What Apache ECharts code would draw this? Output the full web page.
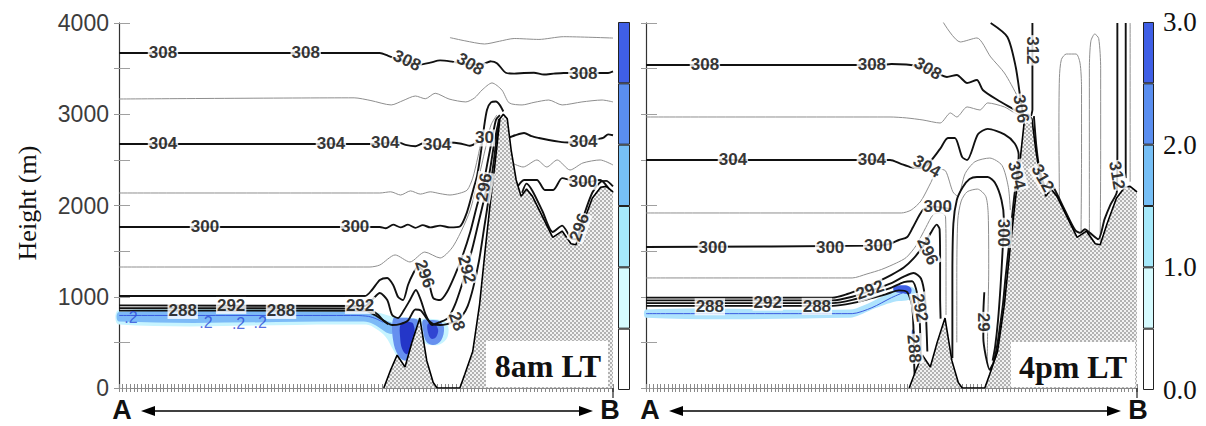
<!DOCTYPE html>
<html>
<head>
<meta charset="utf-8">
<script src="https://cdn.jsdelivr.net/npm/echarts@6/dist/echarts.min.js"></script>
<style>
html,body{margin:0;padding:0;background:#fff;}
#chart{width:1206px;height:426px;}
</style>
</head>
<body>
<div id="chart"></div>
<script>
// Cross-section A–B: x = distance along the section (% of its length), y = height (m)

// terrain profile (shared by both times)
const terrain = [[53.6,0],[55,200],[56.3,360],[57.9,230],[59.3,500],[60.9,767],[62.3,300],[63.6,60],[64.4,0],[69,0],[70,150],[71.6,400],[73,920],[74.1,1500],[75.1,2000],[76.1,2450],[77.1,2950],[77.8,3000],[78.6,2950],[79.4,2600],[80.4,2280],[81.4,2100],[82.5,2180],[83.7,2100],[85.7,1880],[87.8,1650],[89.7,1720],[91.5,1580],[92.5,1570],[93.9,1800],[95.8,2080],[97.5,2200],[98.6,2210],[100,2150]];

const heightTicks = [0, 1000, 2000, 3000, 4000];

// ---------- 8am LT potential temperature (K) isolines ----------
const am310 = [[67,3840],[70,3805],[74,3770],[77,3800],[80,3830],[85,3820],[90,3850],[100,3835]];
const am308 = [[0,3672],[52.8,3672],[54.5,3640],[56.5,3600],[59,3565],[61,3545],[63,3565],[65,3590],[67,3580],[69,3560],[71,3545],[73.3,3545],[75.3,3580],[76.5,3560],[78.3,3455],[80,3445],[82,3452],[84,3455],[86,3435],[88,3445],[90,3452],[99,3452],[100,3470]];
const am306 = [[0,3167],[47.6,3180],[51,3150],[55.1,3102],[57.5,3150],[60,3200],[62,3170],[64,3230],[66.8,3167],[70.2,3135],[72,3180],[73.5,3266],[75.5,3343],[77.5,3266],[79,3124],[81.6,3102],[84,3130],[87,3156],[89.7,3102],[93.7,3135],[97.8,3156],[100,3135]];
const am304 = [[0,2674],[52.8,2674],[54,2685],[56,2700],[58,2665],[60,2650],[61.5,2680],[63,2660],[65,2650],[67,2690],[69,2680],[71,2655],[72.8,2700]];
const am304r = [[78.7,2740],[80.2,2770],[82,2795],[83.5,2760],[85,2740],[87,2718],[89,2700],[91,2690],[93,2700],[96,2720],[98,2740],[99,2780],[100,2770]];
const am302 = [[0,2137],[52.8,2137],[55,2150],[57,2115],[59,2160],[61,2125],[63,2150],[65,2130],[67,2115],[69,2135],[70.5,2170],[71.6,2300],[72.6,2520],[73.3,2700]];
const am302r = [[79.1,2477],[81.8,2422],[84.6,2499],[86.6,2422],[88.7,2499],[91.3,2389],[93.9,2466],[97.4,2499],[100,2444]];
const am300 = [[0,1765],[52.8,1765],[54,1750],[55.5,1790],[57,1760],[58.5,1790],[60,1755],[61.5,1785],[63,1760],[65,1780],[67,1760],[69,1770],[70.4,1920],[71.7,2170],[72.5,2330],[73.3,2600],[73.9,2860],[74.5,3050],[75.3,3130],[76.3,3140],[77.1,3100],[77.8,3030]];
const am300r = [[80.6,2200],[82,2280],[84.6,2280],[86.2,2170],[87.9,2170],[89.7,2300],[91.3,2280],[93.9,2247],[97.4,2280],[99.4,2170],[100,2140]];
const am298 = [[0,1326],[50.8,1326],[52.8,1348],[55.9,1458],[58.9,1381],[61.9,1490],[65,1425],[67.4,1535],[69.4,1732],[71.1,1951],[72.7,2280],[74.1,2608],[75.3,2882],[76.5,2992]];
const am296 = [[0,1008],[49.8,1008],[51.2,1074],[52.8,1184],[54.3,1206],[55.5,1129],[56.5,997],[57.5,964],[58.5,1129],[59.5,1250],[60.5,1330],[61.5,1290],[62.6,1184],[63.6,986],[65,964],[66.4,1052],[68,1238],[69.6,1458],[71.1,1710],[72.5,2006],[73.7,2225],[74.7,2499],[75.5,2718],[76.3,2937],[77.1,2990]];
const am296r = [[81.6,2140],[82.5,2240],[83.7,2160],[85.7,1940],[87.8,1710],[89.7,1780],[91.5,1640],[92.5,1630],[93.9,1860],[95.8,2140],[97.5,2260],[98.6,2270],[100,2210]];
const am292 = [[0,905],[49.8,899],[51.2,964],[52.8,1041],[54.3,964],[55.3,800],[56.5,767],[57.7,855],[58.9,964],[60.1,1074],[61.1,964],[62.1,800],[63.4,690],[65,723],[66.6,767],[68,910],[69.4,1129],[70.6,1348],[71.7,1567],[72.9,1841],[74.1,2115],[75.1,2389],[75.9,2663],[76.7,2882],[77.3,2960]];
const am290 = [[0,875],[49,872],[51,850],[52.5,800],[53.5,740],[54.5,700]];
const am288 = [[0,848],[49.8,846],[51.8,800],[53.8,730],[55.3,690],[56.9,700],[58.5,740],[60,860],[61.1,850],[62.3,760],[63.6,700],[65,690],[66.4,700],[67.6,720],[68.6,740],[69.6,800],[70.6,900],[71.7,1100],[72.9,1400],[73.9,1750],[74.9,2100],[75.9,2500],[76.9,2950]];
const amBlueLine = [[0,795],[48,795],[50.5,785],[52,760],[53.5,720]];

// shaded field (0–3 scale) near the inversion
const amBandLight = [[0,855],[49,855],[51,845],[53,820],[55,790],[57,775],[59,770],[61,760],[63,760],[65,745],[66.5,700],[66.5,560],[65,480],[63,470],[61,500],[59,380],[57,300],[55.5,420],[54,560],[52,650],[50,695],[0,695]];
const amBandMid = [[0,832],[49,832],[51,815],[52.5,780],[54,740],[55.5,700],[55.5,600],[54.5,600],[53,650],[51,712],[49,728],[0,728]];
const amBlob1Mid = [[55.5,760],[57,770],[59,765],[60.5,740],[60.5,460],[59.5,360],[58,300],[56.5,360],[55.5,520]];
const amBlob1Dark = [[57,700],[58.3,725],[59.6,700],[59.8,520],[59,420],[58.2,370],[57.3,430],[56.9,560]];
const amBlob2Mid = [[61.5,740],[63,745],[65,730],[65.8,660],[65.2,520],[63.6,470],[62.2,510],[61.6,620]];
const amBlob2Dark = [[62.5,700],[63.8,705],[64.6,640],[64.2,560],[63.2,540],[62.6,600]];

// isoline labels: [x, height, text, rotation]
const amLabels = [
  [8.9,3672,'308',0],[37.8,3672,'308',0],[58.3,3590,'308',-25],[71.1,3550,'308',-30],[94,3452,'308',0],
  [8.9,2674,'304',0],[42.9,2674,'304',0],[53.9,2685,'304',0],[64.4,2665,'304',0],[94,2700,'304',0],
  [74.0,2740,'30',0],
  [17.4,1765,'300',0],[47.8,1765,'300',0],[93.9,2265,'300',0],
  [12.9,850,'288',0],[22.7,905,'292',0],[32.8,850,'288',0],[48.8,905,'292',0],
  [61.9,1250,'296',-70],[73.9,2200,'296',80],[70.4,1300,'292',-75],[68.4,730,'28',-70],[93.2,1760,'296',70]
];
const amBlueLabels = [[2.4,770,'.2',0],[17.6,715,'.2',0],[24.2,712,'.2',0],[28.6,722,'.2',0]];

// ---------- 4pm LT potential temperature (K) isolines ----------
const pm308 = [[0,3540],[48,3540],[50,3550],[53,3545],[55,3530],[57.4,3500],[59.3,3450],[61.3,3409],[63.3,3430],[65.4,3343],[67.4,3376],[68.6,3266],[71.6,3156],[75.1,3047],[76.8,2990]];
const pm306 = [[0,2970],[49.7,2970],[53,2960],[56.4,2937],[59.9,2904],[62,3014],[63.3,2970],[65.4,3080],[68,3047],[69.6,3124],[73,3080],[75.1,3014],[76.3,2990],[77.2,2990]];
const pm304 = [[0,2499],[49.7,2499],[51.8,2460],[53.8,2422],[55.5,2410],[57.2,2440],[59.9,2620],[61.5,2740],[62.9,2740],[64.4,2530],[65.4,2499],[67.6,2780],[69.6,2840],[73,2780],[75.1,2680],[75.9,2560],[75.6,2350],[75.0,2100],[74.6,1900],[74.1,1650],[73.7,1450],[73.2,1200],[72.7,920],[71.9,600],[71.3,400],[70.3,180]];
const pm302 = [[0,1918],[52,1918],[54,1950],[56,2050],[58,2250],[59.5,2400],[61,2380],[62.5,2150],[63.5,2100],[65,2350],[67,2480],[70,2520],[72.5,2440],[73.8,2200],[74.2,1950]];
const pm300a = [[0,1545],[47.3,1560],[49.7,1580],[51.5,1622],[53.2,1655],[54.4,1765],[56.4,1951],[58.2,1990],[60.5,1975],[62.3,1960]];
const pm300b = [[62.4,330],[62.4,1200],[62.6,1800],[63.3,2060],[64.5,2200],[65.9,2290],[67.4,2313],[69.6,2313],[71.1,2247],[72.4,2060],[72.9,1841],[72.6,1480],[72.2,1107],[71.7,745],[71.1,450],[70.6,300]];
const pmInner = [[63.3,500],[63.3,1200],[63.5,1841],[64.2,2050],[65.4,2150],[67.5,2180],[69.2,2100],[69.7,1900],[69.8,1300],[69.6,700],[69.5,300]];
const pm292v = [[68.9,1050],[68.7,800],[68.7,550],[69.2,350],[70.0,200],[70.6,260]];
const pm298 = [[0,1206],[42,1206],[45,1250],[48,1300],[51,1370],[53,1430],[55,1560],[57,1760],[58.5,1900],[60,1920],[61,1880],[61.1,1500],[61.1,1000],[61.1,800]];
const pm296 = [[0,990],[38,990],[41,1030],[44,1090],[47,1160],[50,1240],[52.5,1320],[54.5,1420],[56.5,1560],[58,1700],[59.2,1790],[59.8,1740],[59.9,1400],[59.9,1000],[60.0,760]];
const pm292 = [[0,960],[38,960],[42,1000],[46,1070],[50,1150],[52.5,1220],[54.5,1260],[56,1200],[56.8,1000],[57.1,700],[57.3,400]];
const pm290 = [[0,930],[38,930],[42,965],[46,1030],[50,1100],[52.5,1160],[54.2,1170],[55.3,1020],[55.7,800],[55.9,500],[56.0,300]];
const pm288 = [[0,900],[38,900],[42,930],[46,985],[49,1030],[51.5,1070],[53.2,1050],[54.2,900],[54.5,600],[54.6,300],[54.7,150]];
const pm310 = [[70.2,4000],[73.6,3847],[75.3,3518],[76.3,3156],[76.8,3000]];
const pm309 = [[60.5,4011],[64,3792],[67.4,3836],[70.2,3628],[73.0,3452],[75.7,3190],[76.7,3047]];
const pm312a = [[78.7,4000],[78.7,3500],[78.7,3050],[78.4,2980]];
const pm312b = [[79.0,2980],[79.5,2650],[80.0,2440],[80.6,2300],[81.4,2200],[82.1,2270],[83.3,2170],[85.3,1950],[87.4,1730],[88.4,1700],[89.4,1740],[90.4,1700],[92.1,1630],[93.4,1850],[94.6,2010],[95.9,2150],[96.0,2600],[96.0,4000]];
const pm312c = [[97.7,4000],[97.7,2300]];
const pm314 = [[98.6,4000],[98.6,2260]];
const pmLoop1 = [[84.2,2060],[84.1,2800],[84.2,3400],[84.6,3600],[85.6,3660],[87.6,3660],[88.4,3560],[88.7,3300],[88.7,2500],[88.6,1700]];
const pmLoop2 = [[90.3,1690],[90.3,2600],[90.3,3500],[90.6,3800],[91.4,3880],[92.2,3830],[92.6,3500],[92.6,2500],[92.5,1600]];
const pmBlueLine = [[0,815],[42,815],[46,880],[50,990],[53,1060]];

const pmBandLight = [[0,860],[41.5,860],[44,900],[46.5,960],[49,1030],[51,1090],[52.5,1120],[54,1110],[55,1060],[54.5,980],[53,960],[51,950],[48.5,910],[46,860],[43.5,800],[41.5,770],[0,770]];
const pmBlob = [[50.5,1110],[52.8,1125],[54,1090],[53.8,1030],[52,1040],[50.5,1060]];
const pmDot = [[54.2,640],[54.7,620],[54.6,530],[54.2,550]];

const pmLabels = [
  [12.0,3540,'308',0],[46.0,3540,'308',0],[57.4,3500,'308',-30],
  [17.7,2499,'304',0],[46.0,2499,'304',0],[57.2,2430,'304',-30],[75.5,2330,'304',-75],
  [13.6,1545,'300',0],[37.5,1545,'300',0],[47.3,1560,'300',0],[59.4,1985,'300',0],[72.8,1700,'300',-90],
  [13.0,890,'288',0],[24.8,940,'292',0],[34.8,895,'288',0],[45.6,1075,'292',20],
  [55.8,880,'292',-80],[54.6,430,'288',-85],[57.4,1500,'296',-65],
  [78.7,3700,'312',-90],[80.8,2300,'312',-60],[95.9,2330,'312',-80],
  [76.4,3060,'306',-80],[68.8,720,'29',-90]
];

// colour scale 0–3
const cbarEdges = [0, 0.5, 1.0, 1.5, 2.0, 2.5, 3.0];
const cbarColors = ['#ffffff', '#d6fbff', '#a6e9fb', '#76bff6', '#5a8ef0', '#3f5fe6'];
const cbarTicks = [0, 1, 2, 3];

// ---------- styles ----------
const THICK = { color: '#111', width: 1.9 };
const THIN = { color: '#8e8e8e', width: 1 };
const BLUE = { color: '#3a5be0', width: 1 };
const SANS = '"Liberation Sans", Arial, sans-serif';
const SERIF = '"Liberation Serif", "Times New Roman", serif';

// checkered fill for the ground
const hatch = (function () {
  const c = document.createElement('canvas');
  c.width = 4; c.height = 4;
  const g = c.getContext('2d');
  g.fillStyle = '#f2f2f2'; g.fillRect(0, 0, 4, 4);
  g.fillStyle = '#b2b2b2'; g.fillRect(0, 0, 2, 2); g.fillRect(2, 2, 2, 2);
  return c.toDataURL();
})();

function iso(data, panel, style, z) {
  return {
    type: 'line', xAxisIndex: panel * 2, yAxisIndex: panel * 2, data: data,
    symbol: 'none', showSymbol: false, smooth: 0.25, lineStyle: style,
    z: z || 3, silent: true, animation: false
  };
}

function labels(list, panel, color, bg, size, weight) {
  return {
    type: 'scatter', xAxisIndex: panel * 2, yAxisIndex: panel * 2, z: 8, silent: true,
    symbolSize: 1, itemStyle: { color: 'rgba(0,0,0,0)' }, animation: false,
    data: list.map(function (d) { return { name: d[2], value: [d[0], d[1]], label: { rotate: d[3] } }; }),
    label: {
      show: true, position: 'inside', formatter: '{b}', fontFamily: SANS, fontSize: size,
      fontWeight: weight || 'normal',
      color: color, backgroundColor: bg, padding: [0, 1], lineHeight: size
    }
  };
}

function shades(polys, panel) {
  return {
    type: 'custom', xAxisIndex: panel * 2, yAxisIndex: panel * 2, z: 1, silent: true, animation: false,
    data: polys.map(function (p) { return p[0][0].slice(); }),
    renderItem: function (params, api) {
      const item = polys[params.dataIndex];
      return {
        type: 'polygon',
        shape: { points: item[0].map(function (p) { return api.coord(p); }), smooth: 0.35 },
        style: { fill: item[1] }
      };
    }
  };
}

function ground(panel) {
  return {
    type: 'line', xAxisIndex: panel * 2, yAxisIndex: panel * 2, data: terrain,
    symbol: 'none', showSymbol: false, z: 5, silent: true, animation: false,
    lineStyle: { color: '#000', width: 1.6 },
    areaStyle: { color: { image: hatch, repeat: 'repeat', imageWidth: 4, imageHeight: 4 }, opacity: 1 }
  };
}

function colorbar(axis) {
  return cbarColors.map(function (c, i) {
    return {
      type: 'bar', xAxisIndex: axis, yAxisIndex: axis, stack: 'cb' + axis, silent: true, animation: false,
      data: [cbarEdges[i + 1] - cbarEdges[i]], barWidth: '100%',
      itemStyle: { color: c, borderColor: '#222', borderWidth: 1 }
    };
  });
}

function xAxes(grid) {
  const base = {
    gridIndex: grid, type: 'value', min: 0, max: 100, interval: 0.75,
    axisLabel: { show: false }, splitLine: { show: false },
    axisTick: { inside: true, length: 4, lineStyle: { color: '#8a8a8a' } },
    axisLine: { lineStyle: { color: '#8a8a8a', width: 1 } }
  };
  return [Object.assign({ position: 'bottom' }, base), Object.assign({ position: 'top' }, base)];
}

function yAxes(grid, withLabels) {
  return [{
    gridIndex: grid, type: 'value', min: 0, max: 4000, interval: 500, position: 'left',
    splitLine: { show: false },
    axisLine: { lineStyle: { color: '#9a9a9a' } },
    axisTick: { inside: true, length: 11, lineStyle: { color: '#a0a0a0' } },
    axisLabel: {
      show: withLabels, margin: 10, fontFamily: SANS, fontSize: 23, color: '#3c3c3c',
      formatter: function (v) { return heightTicks.indexOf(v) >= 0 ? String(v) : ''; }
    }
  }, {
    gridIndex: grid, type: 'value', min: 0, max: 4000, interval: 500, position: 'right',
    splitLine: { show: false }, axisLabel: { show: false },
    axisLine: { lineStyle: { color: '#333', width: 1.2 } },
    axisTick: { inside: true, length: 5, lineStyle: { color: '#999' } }
  }];
}

const series = [].concat(
  // 8am LT
  [shades([[amBandLight, '#c6f4ff'], [amBandMid, '#7cbaf7'], [amBlob1Mid, '#6690ef'], [amBlob1Dark, '#2436c8'], [amBlob2Mid, '#6690ef'], [amBlob2Dark, '#3045d2']], 0)],
  [iso(amBlueLine, 0, BLUE, 2)],
  [am310, am306, am302, am302r, am298].map(function (d) { return iso(d, 0, THIN); }),
  [am308, am304, am304r, am300, am300r, am296, am296r, am292, am290, am288].map(function (d) { return iso(d, 0, THICK); }),
  [ground(0)],
  [labels(amLabels, 0, '#000', '#fff', 17, 'bold'), labels(amBlueLabels, 0, '#2a48d8', null, 16)],
  // 4pm LT
  [shades([[pmBandLight, '#aee3fd'], [pmBlob, '#3f5fe6'], [pmDot, '#4f76ea']], 1)],
  [iso(pmBlueLine, 1, BLUE, 2)],
  [pm309, pm306, pm302, pm298, pmInner, pmLoop1, pmLoop2, pm314].map(function (d) { return iso(d, 1, THIN); }),
  [pm308, pm310, pm304, pm300a, pm300b, pm296, pm292, pm290, pm288, pm292v, pm312a, pm312b, pm312c].map(function (d) { return iso(d, 1, THICK); }),
  [ground(1)],
  [labels(pmLabels, 1, '#000', '#fff', 17, 'bold')],
  // colour bars
  colorbar(4), colorbar(5)
);

function arrow(x1, x2, y) {
  return [
    { type: 'line', z: 100, shape: { x1: x1 + 8, y1: y, x2: x2 - 8, y2: y }, style: { stroke: '#000', lineWidth: 1.5 } },
    { type: 'polygon', z: 100, shape: { points: [[x1, y], [x1 + 14, y - 5], [x1 + 14, y + 5]] }, style: { fill: '#000' } },
    { type: 'polygon', z: 100, shape: { points: [[x2, y], [x2 - 14, y - 5], [x2 - 14, y + 5]] }, style: { fill: '#000' } }
  ];
}

function txt(x, y, s, font, rot) {
  return {
    type: 'text', z: 101, x: x, y: y, rotation: rot || 0,
    style: { text: s, font: font, fill: '#111', textAlign: 'center', textVerticalAlign: 'middle', align: 'center', verticalAlign: 'middle' }
  };
}

const graphics = [].concat(
  [txt(27, 203, 'Height (m)', '26px ' + SERIF, Math.PI / 2)],
  [{ type: 'rect', z: 99, shape: { x: 486, y: 341, width: 122, height: 46 }, style: { fill: '#fff' } },
   txt(548, 366, '8am LT', 'bold 32px ' + SERIF)],
  [{ type: 'rect', z: 99, shape: { x: 1011, y: 342, width: 124, height: 45 }, style: { fill: '#fff' } },
   txt(1073, 367, '4pm LT', 'bold 32px ' + SERIF)],
  [{ type: 'line', z: 100, shape: { x1: 613, y1: 388, x2: 613, y2: 398 }, style: { stroke: '#222', lineWidth: 1.2 } },
   { type: 'line', z: 100, shape: { x1: 1137, y1: 388, x2: 1137, y2: 398 }, style: { stroke: '#222', lineWidth: 1.2 } }],
  [txt(122, 410, 'A', 'bold 27px ' + SANS), txt(610, 410, 'B', 'bold 27px ' + SANS),
   txt(650, 410, 'A', 'bold 27px ' + SANS), txt(1138, 410, 'B', 'bold 27px ' + SANS)],
  arrow(141, 593, 411), arrow(669, 1121, 411)
);

const chart = echarts.init(document.getElementById('chart'), null, { renderer: 'svg', width: 1206, height: 426 });
chart.setOption({
  animation: false,
  backgroundColor: '#fff',
  grid: [
    { left: 119, top: 23, width: 494, height: 365 },
    { left: 646, top: 23, width: 491, height: 365 },
    { left: 618, top: 22, width: 12, height: 368 },
    { left: 1143, top: 22, width: 11, height: 368 }
  ],
  xAxis: [].concat(xAxes(0), xAxes(1), [
    { gridIndex: 2, type: 'category', data: ['c'], show: false },
    { gridIndex: 3, type: 'category', data: ['c'], show: false }
  ]),
  yAxis: [].concat(yAxes(0, true), yAxes(1, false), [
    { gridIndex: 2, type: 'value', min: 0, max: 3, show: false },
    { gridIndex: 3, type: 'value', min: 0, max: 3, interval: 1, position: 'right',
      splitLine: { show: false }, axisLine: { show: false }, axisTick: { show: false },
      axisLabel: { margin: 9, fontFamily: SERIF, fontSize: 27, color: '#111',
        formatter: function (v) { return cbarTicks.indexOf(v) >= 0 ? v.toFixed(1) : ''; } } }
  ]),
  series: series,
  graphic: { elements: graphics }
});
</script>
</body>
</html>
